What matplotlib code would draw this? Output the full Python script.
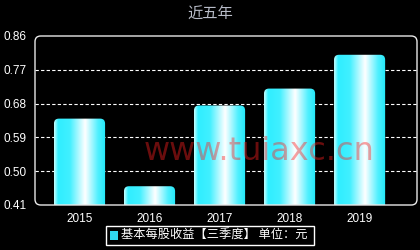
import numpy as np
import matplotlib.pyplot as plt
from matplotlib.patches import FancyBboxPatch, Rectangle
from matplotlib.colors import LinearSegmentedColormap

plt.rcParams['font.family'] = ['Noto Sans CJK SC', 'DejaVu Sans']

years = ['2015', '2016', '2017', '2018', '2019']
eps = [0.64, 0.46, 0.675, 0.72, 0.81]
yticks = [0.41, 0.50, 0.59, 0.68, 0.77, 0.86]
title = '近五年'
legend_label = '基本每股收益【三季度】 单位：元'

fig = plt.figure(figsize=(4.2, 2.5), dpi=100)
fig.patch.set_facecolor('black')
ax = fig.add_axes([35 / 420, 45 / 250, 382 / 420, 169 / 250])
ax.set_facecolor('black')

xlim = (-0.636, 4.82)
ax.set_xlim(*xlim)
ax.set_ylim(yticks[0], yticks[-1])
for s in ax.spines.values():
    s.set_visible(False)

# rounded frame of plot area
frame = FancyBboxPatch((0, 0), 1, 1, boxstyle='round,pad=0,rounding_size=0.015',
                       transform=ax.transAxes, fill=False, ec='#e8e8e8', lw=1.0,
                       mutation_aspect=382 / 169, clip_on=False, zorder=6)
ax.add_patch(frame)

for v in yticks[1:-1]:
    ax.axhline(v, color='white', lw=0.8, ls=(0, (3, 2)), zorder=1)

ax.set_yticks(yticks)
ax.set_yticklabels(['%.2f' % t for t in yticks])
ax.set_xticks(range(len(years)))
ax.set_xticklabels(years)
ax.tick_params(colors='white', labelsize=8.5, length=0, pad=6)
for lab in ax.get_xticklabels() + ax.get_yticklabels():
    lab.set_family('Liberation Sans')

cmap = LinearSegmentedColormap.from_list('cy', [
    (0.0, '#c8ffff'), (0.08, '#30eeff'), (0.3, '#40f0ff'),
    (0.6, '#ffffff'), (0.85, '#50f0ff'), (1.0, '#20e8f8')])
grad = np.linspace(0, 1, 256).reshape(1, -1)

w = 0.73
for i, v in enumerate(eps):
    x0 = i - w / 2
    p = FancyBboxPatch((x0, 0.3), w, v - 0.3,
                       boxstyle='round,pad=0,rounding_size=0.07',
                       mutation_aspect=0.19, fc='none', ec='none', zorder=3)
    ax.add_patch(p)
    im = ax.imshow(grad, cmap=cmap, aspect='auto', extent=(x0, x0 + w, 0.3, v),
                   zorder=3, interpolation='bilinear')
    im.set_clip_path(p)
ax.set_xlim(*xlim)
ax.set_ylim(yticks[0], yticks[-1])

# watermark, semi-transparent over the bars
ax.text(2.56, 0.553, 'www.tuiaxc.cn', color='#ff2020', alpha=0.42, fontsize=23,
        ha='center', va='center', zorder=5, family='DejaVu Sans')

fig.text(0.5, 0.945, title, color='#b8bcc8', fontsize=11, ha='center', va='center')

# legend
lx, ly, lw_, lh = 106 / 420, 5 / 250, 208 / 420, 19 / 250
fig.patches.append(Rectangle((lx, ly), lw_, lh, transform=fig.transFigure,
                             fill=False, ec='white', lw=1.0))
fig.patches.append(Rectangle((lx + 4 / 420, ly + 5 / 250), 8 / 420, 9 / 250,
                             transform=fig.transFigure, fc='#30d8f0', ec='none'))
fig.text(lx + 15 / 420, ly + lh / 2, legend_label, color='white', fontsize=8.8,
         ha='left', va='center')

fig.savefig('out.png', dpi=100, facecolor='black')
